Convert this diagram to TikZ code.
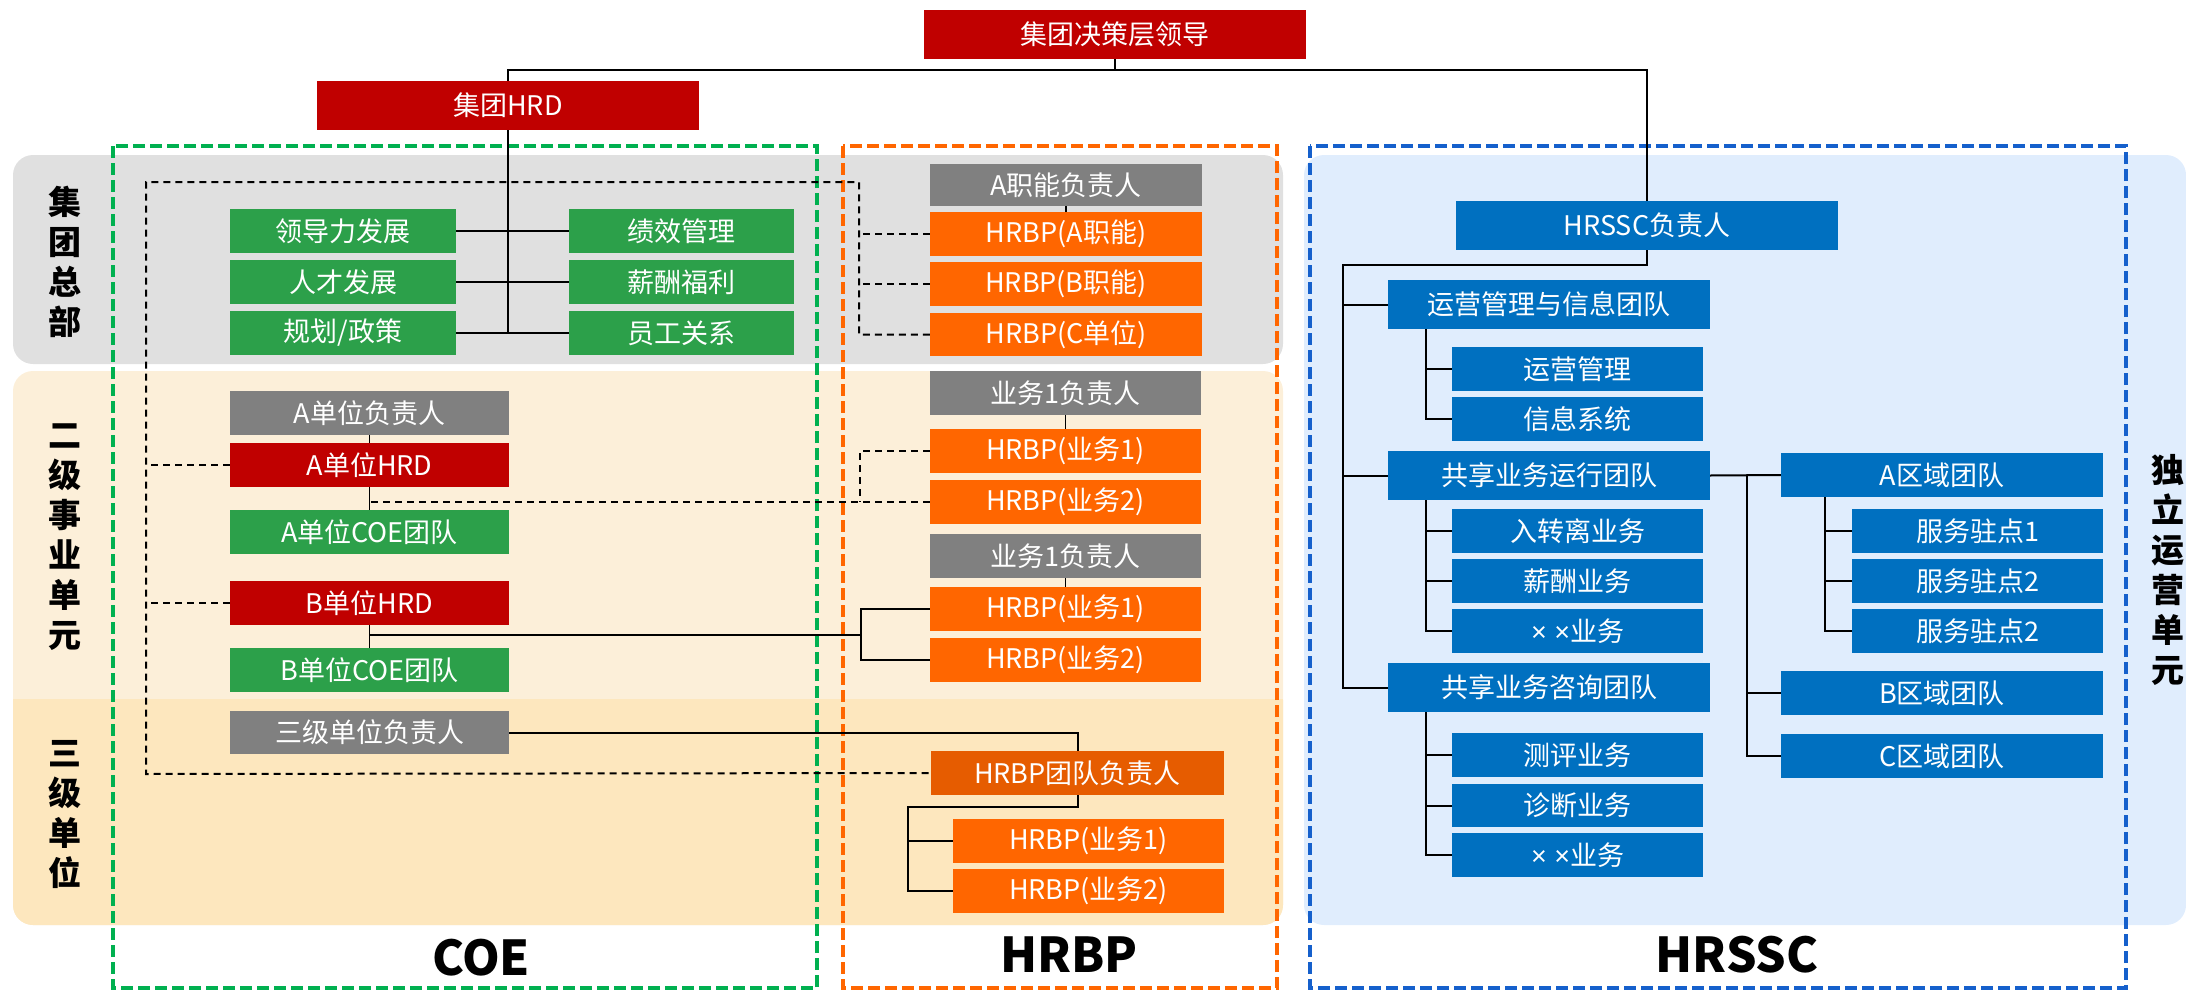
\documentclass[tikz,border=0pt]{standalone}
\usepackage{fontspec}
\setmainfont{Noto Sans CJK SC}
\newfontfamily\latfont{Liberation Sans}
\usetikzlibrary{calc}
\definecolor{cred}{RGB}{192,0,0}
\definecolor{cgreen}{RGB}{44,160,74}
\definecolor{cgray}{RGB}{128,128,128}
\definecolor{corange}{RGB}{255,102,0}
\definecolor{cdorange}{RGB}{230,92,0}
\definecolor{cblue}{RGB}{0,112,192}
\definecolor{bandgray}{RGB}{224,224,224}
\definecolor{bandcream}{RGB}{252,239,217}
\definecolor{banddcream}{RGB}{253,231,190}
\definecolor{bandblue}{RGB}{224,237,253}
\definecolor{fgreen}{RGB}{0,176,80}
\definecolor{forange}{RGB}{255,102,0}
\definecolor{fblue}{RGB}{21,96,204}
\newcommand\bx[7]{\node[#2, minimum width={(#5)-(#3)}, minimum height={(#6)-(#4)}] (#1) at ({((#3)+(#5))/2},{((#4)+(#6))/2}) {#7};}
\tikzset{
  box/.style={rectangle, inner sep=0pt, text=white, font=\fontsize{27}{30}\selectfont},
  rbox/.style={box, fill=cred},
  gbox/.style={box, fill=cgreen},
  graybox/.style={box, fill=cgray},
  obox/.style={box, fill=corange},
  dobox/.style={box, fill=cdorange},
  bbox/.style={box, fill=cblue},
  conn/.style={draw=black, line width=2pt},
  thinconn/.style={draw=black, line width=1.3pt},
  dline/.style={draw=black, line width=2pt, dash pattern=on 7pt off 5pt},
  frame/.style={line width=4pt, dash pattern=on 12pt off 5pt},
  vlabel/.style={font=\fontsize{33}{40}\selectfont\bfseries, align=center, inner sep=0pt},
  flabel/.style={font=\fontsize{48}{50}\selectfont\bfseries, inner sep=0pt},
}
\begin{document}
\begin{tikzpicture}[x=1pt, y=-1pt]
\useasboundingbox (0,0) rectangle (2186,990);
% bands
\fill[bandgray, rounded corners=20pt] (13,155) rectangle (1283,364);
\fill[bandcream, rounded corners=20pt] (13,371) rectangle (1283,925);
\fill[banddcream, rounded corners=20pt] (13,680) rectangle (1283,925);
\fill[bandcream] (13,680) rectangle (1283,699);
\fill[bandblue, rounded corners=20pt] (1304,155) rectangle (2186,925);
% frames
\draw[frame, fgreen] (113,146) rectangle (817,988);
\draw[frame, forange] (843,146) rectangle (1277,988);
\draw[frame, fblue] (1310,146) rectangle (2126,988);
\node[flabel] (lcoe) at (481,958) {COE};
\node[flabel] (lhrbp) at (1069,955) {HRBP};
\node[flabel] (lhrssc) at (1737,955) {HRSSC};
% band labels
\node[vlabel] (v1) at (65,262) {集\\团\\总\\部};
\node[vlabel] (v2) at (65,537) {二\\级\\事\\业\\单\\元};
\node[vlabel] (v3) at (65,814) {三\\级\\单\\位};
\node[vlabel] (v4) at (2168,570) {独\\立\\运\\营\\单\\元};
% boxes
\bx{top}{rbox}{924}{10}{1306}{59}{集团决策层领导}
\bx{hrd}{rbox}{317}{81}{699}{130}{集团HRD}
\bx{gl1}{gbox}{230}{209}{456}{253}{领导力发展}
\bx{gl2}{gbox}{230}{260}{456}{304}{人才发展}
\bx{gl3}{gbox}{230}{311}{456}{355}{规划/政策}
\bx{gr1}{gbox}{569}{209}{794}{253}{绩效管理}
\bx{gr2}{gbox}{569}{260}{794}{304}{薪酬福利}
\bx{gr3}{gbox}{569}{311}{794}{355}{员工关系}
\bx{af}{graybox}{930}{164}{1202}{206}{A职能负责人}
\bx{ha}{obox}{930}{212}{1202}{256}{HRBP(A职能)}
\bx{hb}{obox}{930}{262}{1202}{306}{HRBP(B职能)}
\bx{hc}{obox}{930}{313}{1202}{356}{HRBP(C单位)}
\bx{ah}{graybox}{230}{391}{509}{435}{A单位负责人}
\bx{ahrd}{rbox}{230}{443}{509}{487}{A单位HRD}
\bx{acoe}{gbox}{230}{510}{509}{554}{A单位COE团队}
\bx{bhrd}{rbox}{230}{581}{509}{625}{B单位HRD}
\bx{bcoe}{gbox}{230}{648}{509}{692}{B单位COE团队}
\bx{s3}{graybox}{230}{711}{509}{754}{三级单位负责人}
\bx{y1}{graybox}{930}{371}{1201}{415}{业务1负责人}
\bx{b1}{obox}{930}{429}{1201}{473}{HRBP(业务1)}
\bx{b2}{obox}{930}{480}{1201}{524}{HRBP(业务2)}
\bx{y2}{graybox}{930}{534}{1201}{578}{业务1负责人}
\bx{c1}{obox}{930}{587}{1201}{631}{HRBP(业务1)}
\bx{c2}{obox}{930}{638}{1201}{682}{HRBP(业务2)}
\bx{tl}{dobox}{931}{751}{1224}{795}{HRBP团队负责人}
\bx{t1}{obox}{953}{819}{1224}{863}{HRBP(业务1)}
\bx{t2}{obox}{953}{869}{1224}{913}{HRBP(业务2)}
\bx{ssc}{bbox}{1456}{201}{1838}{250}{HRSSC负责人}
\bx{g1}{bbox}{1388}{280}{1710}{329}{运营管理与信息团队}
\bx{i1}{bbox}{1452}{347}{1703}{391}{运营管理}
\bx{i2}{bbox}{1452}{397}{1703}{441}{信息系统}
\bx{g2}{bbox}{1388}{451}{1710}{500}{共享业务运行团队}
\bx{j1}{bbox}{1452}{509}{1703}{553}{入转离业务}
\bx{j2}{bbox}{1452}{559}{1703}{603}{薪酬业务}
\bx{j3}{bbox}{1452}{609}{1703}{653}{{\latfont × ×}业务}
\bx{g3}{bbox}{1388}{663}{1710}{712}{共享业务咨询团队}
\bx{k1}{bbox}{1452}{733}{1703}{777}{测评业务}
\bx{k2}{bbox}{1452}{784}{1703}{827}{诊断业务}
\bx{k3}{bbox}{1452}{833}{1703}{877}{{\latfont × ×}业务}
\bx{ra}{bbox}{1781}{453}{2103}{497}{A区域团队}
\bx{p1}{bbox}{1852}{509}{2103}{553}{服务驻点1}
\bx{p2}{bbox}{1852}{559}{2103}{603}{服务驻点2}
\bx{p3}{bbox}{1852}{609}{2103}{653}{服务驻点2}
\bx{rb}{bbox}{1781}{671}{2103}{715}{B区域团队}
\bx{rc}{bbox}{1781}{734}{2103}{778}{C区域团队}
% helper coordinates
\coordinate (bus) at (1115,70);
\coordinate (dx) at (859,182);
\coordinate (dl) at (146,774);
\coordinate (dx2) at (860,0);
\coordinate (jb) at (861,635);
\coordinate (tj) at (908,807);
\coordinate (sj) at (1343,265);
\coordinate (sx) at (1426,0);
\coordinate (rx) at (1747,0);
\coordinate (px) at (1825,0);
% connectors
\draw[conn] (top.south) -- (bus);
\draw[conn] (hrd.north) |- (bus) -| (ssc.north);
\draw[conn] (hrd.south) -- (hrd.south |- gl3.east);
\draw[conn] (gl1.east) -- (gr1.west);
\draw[conn] (gl2.east) -- (gr2.west);
\draw[conn] (gl3.east) -- (gr3.west);
\draw[thinconn] (af.south) -- (ha.north);
\draw[thinconn] (y1.south) -- (b1.north);
\draw[thinconn] (y2.south) -- (c1.north);
\draw[thinconn] (ah.south) -- (ahrd.north);
\draw[thinconn] (ahrd.south) -- (acoe.north);
\draw[thinconn] (bhrd.south) -- (bcoe.north);
% dashed links
\draw[dline] (hc.west) -| (dx) -| (dl) -- (tl.west);
\draw[dline] (ha.west) -- (ha.west -| dx);
\draw[dline] (hb.west) -- (hb.west -| dx);
\draw[dline] (ahrd.west) -- (ahrd.west -| dl);
\draw[dline] (bhrd.west) -- (bhrd.west -| dl);
\draw[dline] (b2.west) -- (b2.west -| ahrd.south);
\draw[dline] (b1.west) -| (dx2 |- b2.west);
% B unit solid
\draw[conn] (bcoe.north |- jb) -- (jb);
\draw[conn] (c1.west) -| (jb);
\draw[conn] (c2.west) -| (jb);
% third level
\draw[conn] (s3.east) -| (tl.north);
\draw[conn] (tl.south) |- (tj) |- (t2.west);
\draw[conn] (t1.west -| tj) -- (t1.west);
% HRSSC tree
\draw[conn] (ssc.south) |- (sj) |- (g3.west);
\draw[conn] (g1.west -| sj) -- (g1.west);
\draw[conn] (g2.west -| sj) -- (g2.west);
\draw[conn] (g1.south -| sx) |- (i2.west);
\draw[conn] (i1.west -| sx) -- (i1.west);
\draw[conn] (g2.south -| sx) |- (j3.west);
\draw[conn] (j1.west -| sx) -- (j1.west);
\draw[conn] (j2.west -| sx) -- (j2.west);
\draw[conn] (g3.south -| sx) |- (k3.west);
\draw[conn] (k1.west -| sx) -- (k1.west);
\draw[conn] (k2.west -| sx) -- (k2.west);
\draw[conn] (g2.east) -- (ra.west);
\draw[conn] (g2.east -| rx) |- (rc.west);
\draw[conn] (rb.west -| rx) -- (rb.west);
\draw[conn] (ra.south -| px) |- (p3.west);
\draw[conn] (p1.west -| px) -- (p1.west);
\draw[conn] (p2.west -| px) -- (p2.west);
\end{tikzpicture}
\end{document}
